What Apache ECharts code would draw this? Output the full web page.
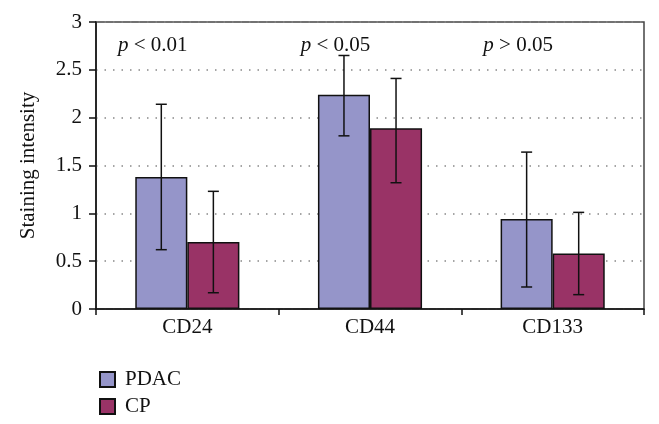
<!DOCTYPE html>
<html>
<head>
<meta charset="utf-8">
<script src="https://cdn.jsdelivr.net/npm/echarts@6/dist/echarts.min.js"></script>
<style>html,body{margin:0;padding:0;background:#fff}#c{width:659px;height:424px}</style>
</head>
<body>
<div id="c"></div>
<script>
var categories = ['CD24', 'CD44', 'CD133'];
var pdacValues = [1.38, 2.24, 0.94];
var pdacLow = [0.62, 1.81, 0.23];
var pdacHigh = [2.14, 2.65, 1.64];
var cpValues = [0.70, 1.89, 0.58];
var cpLow = [0.17, 1.32, 0.15];
var cpHigh = [1.23, 2.41, 1.01];
var pLabels = ['p < 0.01', 'p < 0.05', 'p > 0.05'];
var pLabelY = 2.75;
var yTicks = [0, 0.5, 1, 1.5, 2, 2.5, 3];

var FONT = 'Liberation Serif';
var FS = 21;
var chart = echarts.init(document.getElementById('c'));
var BAR_W_FRAC = 0.285;

function errSeries(low, high, idx) {
  return {
    type: 'custom',
    silent: true,
    z: 5,
    renderItem: function (params, api) {
      var ci = api.value(0);
      var lo = api.coord([ci, api.value(1)]);
      var hi = api.coord([ci, api.value(2)]);
      var band = api.size([1, 0])[0];
      var bw = band * BAR_W_FRAC;
      var x = lo[0] + (idx === 0 ? -bw / 2 : bw / 2);
      var cap = 5.5;
      var st = { stroke: '#111', lineWidth: 1.5 };
      return {
        type: 'group',
        children: [
          { type: 'line', shape: { x1: x, y1: hi[1], x2: x, y2: lo[1] }, style: st },
          { type: 'line', shape: { x1: x - cap, y1: hi[1], x2: x + cap, y2: hi[1] }, style: st },
          { type: 'line', shape: { x1: x - cap, y1: lo[1], x2: x + cap, y2: lo[1] }, style: st }
        ]
      };
    },
    data: categories.map(function (c, i) { return [i, low[i], high[i]]; })
  };
}

chart.setOption({
  animation: false,
  grid: { left: 96, right: 15, top: 22, bottom: 115, show: true, borderColor: '#444', borderWidth: 1.5 },
  legend: {
    data: ['PDAC', 'CP'],
    orient: 'vertical',
    icon: 'rect',
    left: 94,
    top: 364,
    itemWidth: 15,
    itemHeight: 15,
    itemGap: 6,
    textStyle: { fontFamily: FONT, fontSize: FS, color: '#111', padding: [0, 0, 0, 5] }
  },
  xAxis: {
    type: 'category',
    data: categories,
    axisLine: { lineStyle: { color: '#111', width: 1.5 } },
    axisTick: { show: true, length: 6, lineStyle: { color: '#111', width: 1.5 } },
    axisLabel: { fontFamily: FONT, fontSize: FS, color: '#111', margin: 8 }
  },
  yAxis: {
    type: 'value',
    min: 0,
    max: 3,
    interval: 0.5,
    name: 'Staining intensity',
    nameLocation: 'middle',
    nameGap: 57,
    nameTextStyle: { fontFamily: FONT, fontSize: FS, color: '#111' },
    axisLine: { show: true, lineStyle: { color: '#111', width: 1.5 } },
    axisTick: { show: true, length: 7, lineStyle: { color: '#111', width: 1.5 } },
    axisLabel: { fontFamily: FONT, fontSize: FS, color: '#111', margin: 14 },
    splitLine: { show: true, lineStyle: { color: '#888', type: [1.5, 7], width: 1.5 } }
  },
  series: [
    {
      name: 'PDAC', type: 'bar', data: pdacValues, barWidth: (BAR_W_FRAC * 100) + '%', barGap: '0%',
      itemStyle: { color: '#9595c9', borderColor: '#111', borderWidth: 1.5 }
    },
    {
      name: 'CP', type: 'bar', data: cpValues, barWidth: (BAR_W_FRAC * 100) + '%', barGap: '0%',
      itemStyle: { color: '#993366', borderColor: '#111', borderWidth: 1.5 }
    },
    errSeries(pdacLow, pdacHigh, 0),
    errSeries(cpLow, cpHigh, 1),
    {
      type: 'custom',
      silent: true,
      renderItem: function (params, api) {
        var ci = api.value(0);
        var pt = api.coord([ci, api.value(1)]);
        var band = api.size([1, 0])[0];
        var txt = pLabels[ci];
        return {
          type: 'text',
          x: pt[0] - band / 2 + 22,
          y: pt[1],
          style: {
            rich: {
              i: { fontFamily: FONT, fontStyle: 'italic', fontSize: FS, fill: '#111' },
              n: { fontFamily: FONT, fontSize: FS, fill: '#111' }
            },
            text: '{i|p}{n|' + txt.slice(1) + '}',
            verticalAlign: 'middle',
            align: 'left'
          }
        };
      },
      data: categories.map(function (c, i) { return [i, pLabelY]; })
    }
  ]
});
</script>
</body>
</html>
